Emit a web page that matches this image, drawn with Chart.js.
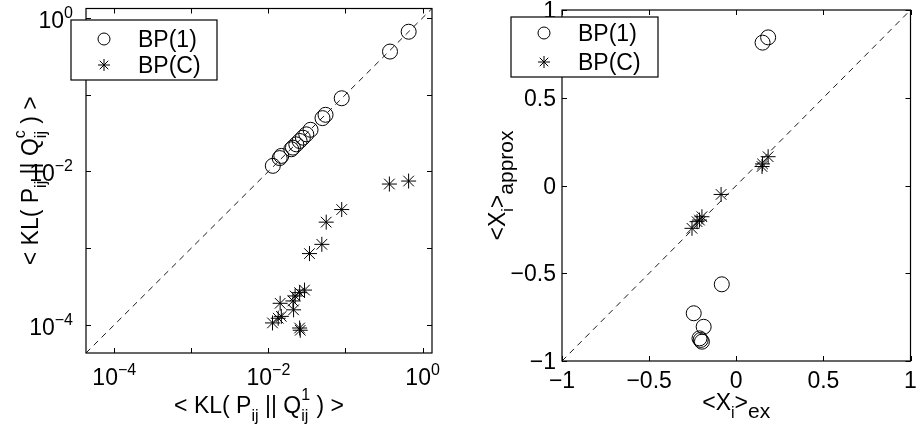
<!DOCTYPE html>
<html>
<head>
<meta charset="utf-8">
<script src="https://cdn.jsdelivr.net/npm/chart.js@4.4.1/dist/chart.umd.min.js"></script>
<style>
  html, body { margin: 0; padding: 0; background: #fff; }
  #wrap { position: relative; width: 919px; height: 425px; overflow: hidden; }
  .panel { position: absolute; top: 0; height: 425px; }
  #left { left: 0; width: 460px; }
  #right { left: 460px; width: 459px; }
</style>
</head>
<body>
<div id="wrap">
  <div class="panel" id="left"><canvas id="klChart" width="460" height="425"></canvas></div>
  <div class="panel" id="right"><canvas id="magChart" width="459" height="425"></canvas></div>
</div>
<script>
// ============================================================
// Data - left panel: < KL > of BP(1) vs BP(C), log-log
// ============================================================
const klRange = [4.3e-5, 1.325];
const klTicks = [1e-4, 1e-3, 1e-2, 1e-1, 1];
const klLabelTicks = [1e-4, 1e-2, 1];
const klLabelExps = ['\u22124', '\u22122', '0'];

const bp1KlX = [0.66, 0.378, 0.0893, 0.0551, 0.0503, 0.0352, 0.031, 0.028, 0.0254, 0.023, 0.0208, 0.0198, 0.0147, 0.014, 0.0114];
const bp1KlY = [0.66, 0.364, 0.0897, 0.0546, 0.0494, 0.0348, 0.0304, 0.0275, 0.0249, 0.0225, 0.0204, 0.0194, 0.0159, 0.0149, 0.0118];
const bpcKlX = [0.659, 0.371, 0.0893, 0.0562, 0.0493, 0.0341, 0.0294, 0.0254, 0.0222, 0.0208, 0.0142, 0.0212, 0.0147, 0.0134, 0.0113, 0.0254, 0.0259];
const bpcKlY = [0.00748, 0.00684, 0.00318, 0.00218, 0.00112, 0.000849, 0.000284, 0.000263, 0.000238, 0.000205, 0.000191, 0.000157, 0.000129, 0.000122, 0.000106, 0.000091, 0.0000851];

// ============================================================
// Data - right panel: magnetizations <X_i>, exact vs approx
// ============================================================
const magRange = [-1, 1];
const magTicks = [-1, -0.5, 0, 0.5, 1];
const magTickLabels = ['\u22121', '\u22120.5', '0', '0.5', '1'];

const bp1Ex = [0.183, 0.151, -0.083, -0.244, -0.187, -0.211, -0.197, -0.204];
const bp1Approx = [0.844, 0.814, -0.563, -0.728, -0.805, -0.871, -0.890, -0.880];
const bpcEx = [0.183, 0.151, 0.148, -0.087, -0.197, -0.211, -0.225, -0.254];
const bpcApprox = [0.164, 0.123, 0.108, -0.051, -0.178, -0.197, -0.206, -0.244];

const legendNames = ['BP(1)', 'BP(C)'];

// ============================================================
// Text helpers (matlab style sub/superscripts)
// ============================================================
const FONT = 'Arial, "Liberation Sans", Helvetica, sans-serif';
const BIG = 23;
const SMALL = 16;

function layoutRich(ctx, parts) {
  let x = 0, prevX = 0;
  const items = [];
  for (const p of parts) {
    ctx.font = p.s + 'px ' + FONT;
    const w = ctx.measureText(p.t).width;
    const sx = p.stack ? prevX : x;
    items.push({ ...p, x: sx });
    if (p.stack) {
      x = Math.max(x, sx + w);
    } else {
      prevX = x;
      x += w;
    }
  }
  return { items, width: x };
}

function drawRich(ctx, parts, x, y, align) {
  const { items, width } = layoutRich(ctx, parts);
  const x0 = align === 'center' ? x - width / 2 : align === 'right' ? x - width : x;
  ctx.textAlign = 'left';
  ctx.textBaseline = 'alphabetic';
  ctx.fillStyle = '#000';
  for (const it of items) {
    ctx.font = it.s + 'px ' + FONT;
    ctx.fillText(it.t, x0 + it.x, y + (it.dy || 0));
  }
}

const txt = (t, extra) => ({ t, s: BIG, dy: 0, ...extra });
const sup = (t, extra) => ({ t, s: SMALL, dy: -10, ...extra });
const sub = (t, extra) => ({ t, s: SMALL, dy: 8, ...extra });

// ============================================================
// Frame plugin: box, inward ticks, labels, titles, legend
// ============================================================
const framePlugin = {
  id: 'frame',
  afterDraw(chart, args, opts) {
    const ctx = chart.ctx;
    const area = chart.chartArea;
    const xs = chart.scales.x;
    const ys = chart.scales.y;
    ctx.save();

    // axes box
    ctx.strokeStyle = '#000';
    ctx.lineWidth = 1.2;
    ctx.strokeRect(area.left, area.top, area.right - area.left, area.bottom - area.top);

    // inward ticks on all four sides
    const tl = 5;
    ctx.lineWidth = 1;
    ctx.beginPath();
    xs.ticks.forEach(t => {
      const px = Math.round(xs.getPixelForValue(t.value)) + 0.5;
      ctx.moveTo(px, area.bottom); ctx.lineTo(px, area.bottom - tl);
      ctx.moveTo(px, area.top); ctx.lineTo(px, area.top + tl);
    });
    ys.ticks.forEach(t => {
      const py = Math.round(ys.getPixelForValue(t.value)) + 0.5;
      ctx.moveTo(area.left, py); ctx.lineTo(area.left + tl, py);
      ctx.moveTo(area.right, py); ctx.lineTo(area.right - tl, py);
    });
    ctx.stroke();

    // tick labels
    opts.xLabels.forEach(l => {
      drawRich(ctx, l.parts, xs.getPixelForValue(l.value), area.bottom + opts.xLabelOffset, 'center');
    });
    opts.yLabels.forEach(l => {
      drawRich(ctx, l.parts, area.left - opts.yLabelGap, ys.getPixelForValue(l.value) + opts.yLabelShift, 'right');
    });

    // axis titles
    const cx = (area.left + area.right) / 2;
    const cy = (area.top + area.bottom) / 2;
    drawRich(ctx, opts.xTitle, cx, opts.xTitleY, 'center');
    ctx.save();
    ctx.translate(opts.yTitleX, cy);
    ctx.rotate(-Math.PI / 2);
    drawRich(ctx, opts.yTitle, 0, 0, 'center');
    ctx.restore();

    // legend box
    const lg = opts.legend;
    ctx.fillStyle = '#fff';
    ctx.fillRect(lg.x, lg.y, lg.w, lg.h);
    ctx.strokeStyle = '#000';
    ctx.lineWidth = 1.2;
    ctx.strokeRect(lg.x, lg.y, lg.w, lg.h);
    const styles = ['circle', 'star'];
    legendNames.forEach((name, i) => {
      const my = lg.y + lg.rows[i];
      ctx.strokeStyle = '#000';
      ctx.fillStyle = 'rgba(0,0,0,0)';
      ctx.lineWidth = 1;
      Chart.helpers.drawPoint(ctx, { pointStyle: styles[i], radius: 6, rotation: 0, borderWidth: 1 }, lg.x + 33, my);
      ctx.font = BIG + 'px ' + FONT;
      ctx.fillStyle = '#000';
      ctx.textAlign = 'left';
      ctx.textBaseline = 'alphabetic';
      ctx.fillText(name, lg.x + 67, my + 8);
    });

    ctx.restore();
  }
};

function pts(xs, ys) {
  return xs.map((x, i) => ({ x, y: ys[i] }));
}

function markerSet(label, data, style) {
  return {
    label,
    data,
    pointStyle: style,
    pointRadius: 7.5,
    pointBorderWidth: 1,
    borderColor: '#000',
    backgroundColor: 'rgba(0,0,0,0)',
    showLine: false,
  };
}

function diagSet(range) {
  return {
    type: 'line',
    label: 'diag',
    data: [{ x: range[0], y: range[0] }, { x: range[1], y: range[1] }],
    borderColor: '#000',
    borderWidth: 0.9,
    borderDash: [6, 5],
    pointRadius: 0,
    fill: false,
    order: 5,
  };
}

function hiddenScale(type, range, ticks, isX) {
  return {
    type,
    min: range[0],
    max: range[1],
    ticks: { display: false },
    grid: { display: false },
    border: { display: false },
    afterBuildTicks: s => { s.ticks = ticks.map(v => ({ value: v })); },
    afterFit: s => { if (isX) s.height = 0; else s.width = 0; },
  };
}

// ============================================================
// Left chart
// ============================================================
new Chart(document.getElementById('klChart'), {
  type: 'scatter',
  data: {
    datasets: [
      markerSet('BP(1)', pts(bp1KlX, bp1KlY), 'circle'),
      markerSet('BP(C)', pts(bpcKlX, bpcKlY), 'star'),
      diagSet(klRange),
    ],
  },
  options: {
    responsive: false,
    animation: false,
    devicePixelRatio: 1,
    layout: { padding: { left: 86, top: 7, right: 28, bottom: 72 } },
    scales: {
      x: hiddenScale('logarithmic', klRange, klTicks, true),
      y: hiddenScale('logarithmic', klRange, klTicks, false),
    },
    plugins: {
      legend: { display: false },
      tooltip: { enabled: false },
      frame: {
        xLabels: klLabelTicks.map((v, i) => ({ value: v, parts: [txt('10'), sup(klLabelExps[i])] })),
        yLabels: klLabelTicks.map((v, i) => ({ value: v, parts: [txt('10'), sup(klLabelExps[i])] })),
        xLabelOffset: 32,
        yLabelGap: 13,
        yLabelShift: 10,
        xTitle: [txt('< KL( P'), sub('ij'), txt(' || Q'), sup('1', { dy: -13 }), sub('ij', { stack: true }), txt(' ) >')],
        xTitleY: 413,
        yTitle: [txt('< KL( P'), sub('ij'), txt(' || Q'), sup('c', { dy: -13 }), sub('ij', { stack: true }), txt(' ) >')],
        yTitleX: 38,
        legend: { x: 71, y: 20, w: 146, h: 60, rows: [19, 45] },
      },
    },
  },
  plugins: [framePlugin],
});

// ============================================================
// Right chart
// ============================================================
new Chart(document.getElementById('magChart'), {
  type: 'scatter',
  data: {
    datasets: [
      markerSet('BP(1)', pts(bp1Ex, bp1Approx), 'circle'),
      markerSet('BP(C)', pts(bpcEx, bpcApprox), 'star'),
      diagSet(magRange),
    ],
  },
  options: {
    responsive: false,
    animation: false,
    devicePixelRatio: 1,
    layout: { padding: { left: 102, top: 10, right: 6, bottom: 64 } },
    scales: {
      x: hiddenScale('linear', magRange, magTicks, true),
      y: hiddenScale('linear', magRange, magTicks, false),
    },
    plugins: {
      legend: { display: false },
      tooltip: { enabled: false },
      frame: {
        xLabels: magTicks.map((v, i) => ({ value: v, parts: [txt(magTickLabels[i])] })),
        yLabels: magTicks.map((v, i) => ({ value: v, parts: [txt(magTickLabels[i])] })),
        xLabelOffset: 27,
        yLabelGap: 6,
        yLabelShift: 8,
        xTitle: [txt('<X'), sub('i'), txt('>'), sub('ex', { s: BIG - 2 })],
        xTitleY: 410,
        yTitle: [txt('<X'), sub('i'), txt('>'), sub('approx', { s: BIG - 2 })],
        yTitleX: 45,
        legend: { x: 51, y: 17, w: 147, h: 60, rows: [16, 45] },
      },
    },
  },
  plugins: [framePlugin],
});
</script>
</body>
</html>
